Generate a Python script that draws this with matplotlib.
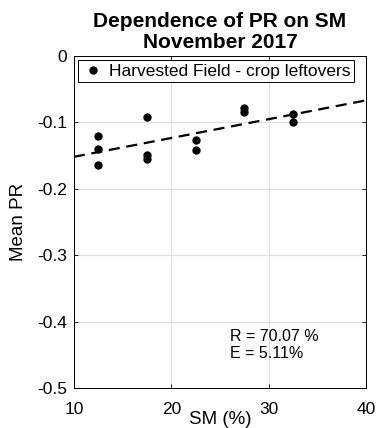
import numpy as np
import matplotlib.pyplot as plt

plt.rcParams['font.family'] = ['Liberation Sans', 'DejaVu Sans']

# soil moisture (%) and mean PR per sample
sm = [12.5, 12.5, 12.5, 17.5, 17.5, 17.5, 22.5, 22.5, 27.5, 27.5, 32.5, 32.5]
mean_pr = [-0.121, -0.140, -0.165, -0.092, -0.149, -0.155,
           -0.127, -0.141, -0.079, -0.084, -0.087, -0.100]

# linear fit endpoints
fit_x = [10, 40]
fit_y = [-0.152, -0.067]

r_value = 70.07
e_value = 5.11

fig = plt.figure(figsize=(3.77, 4.28), dpi=100)
ax = fig.add_axes([0.196, 0.0935, 0.775, 0.776])

ax.plot(sm, mean_pr, 'o', color='black', markersize=5,
        label='Harvested Field - crop leftovers')
ax.plot(fit_x, fit_y, '--', color='black', linewidth=1.6, dashes=(5, 3))

ax.set_xlim(10, 40)
ax.set_ylim(-0.5, 0)
ax.set_xticks([10, 20, 30, 40])
ax.set_yticks([-0.5, -0.4, -0.3, -0.2, -0.1, 0])
ax.set_yticklabels(['-0.5', '-0.4', '-0.3', '-0.2', '-0.1', '0'])
ax.grid(True, color='#e0e0e0', linewidth=0.8)
ax.set_axisbelow(True)
ax.tick_params(direction='in', top=True, right=True, labelsize=12.5,
               length=3, width=0.6)
ax.tick_params(axis='x', pad=10)
ax.tick_params(axis='y', pad=5)
for s in ax.spines.values():
    s.set_linewidth(0.7)

ax.set_xlabel('SM (%)', fontsize=13.5)
ax.xaxis.set_label_coords(0.5, -0.068)
ax.set_ylabel('Mean PR', fontsize=13.5)
ax.yaxis.set_label_coords(-0.16, 0.5)
ax.set_title('Dependence of PR on SM\nNovember 2017', fontsize=15,
             fontweight='bold', pad=6, linespacing=1.1)

leg = ax.legend(loc='upper left', fontsize=12.5, frameon=True, fancybox=False,
                edgecolor='black', framealpha=1, handletextpad=0.3,
                borderpad=0.2, handlelength=1.3, borderaxespad=0.25)
leg.get_frame().set_linewidth(0.7)

ax.text(0.533, 0.13, f'R = {r_value:.2f} %\nE = {e_value:.2f}%',
        transform=ax.transAxes, fontsize=11.5, linespacing=1.15, va='center')

fig.savefig('out.png', dpi=100)
